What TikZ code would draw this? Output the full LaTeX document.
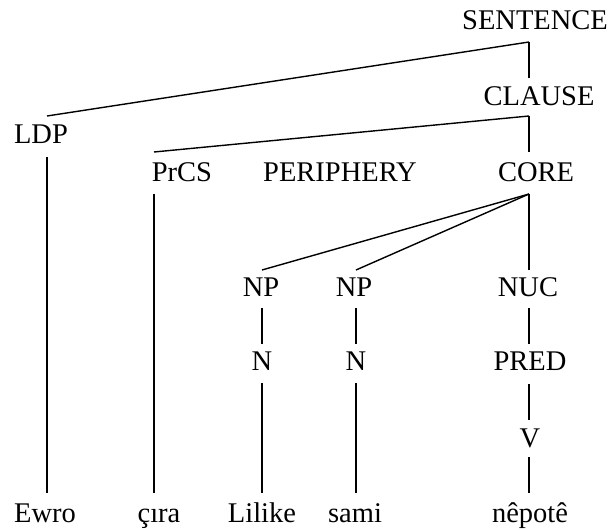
\documentclass[tikz,border=0pt]{standalone}
\usepackage{fontspec}
\setmainfont{Liberation Serif}
\begin{document}
\begin{tikzpicture}[x=1bp,y=-1bp,
  lbl/.style={anchor=base,inner sep=0pt,font=\fontsize{28.5bp}{30bp}\selectfont},
  edge/.style={line width=1.4bp}]
\useasboundingbox (0,0) rectangle (609,530);
% labels
\node[lbl] (S) at (535,30) {SENTENCE};
\node[lbl] (CL) at (539,106) {CLAUSE};
\node[lbl] (LDP) at (41,144) {LDP};
\node[lbl] (PrCS) at (182,182) {PrCS};
\node[lbl] (PER) at (340,182) {PERIPHERY};
\node[lbl] (CORE) at (536,182) {CORE};
\node[lbl] (NP1) at (261,296) {NP};
\node[lbl] (NP2) at (354,296) {NP};
\node[lbl] (NUC) at (528,296) {NUC};
\node[lbl] (N1) at (262,370) {N};
\node[lbl] (N2) at (356,370) {N};
\node[lbl] (PRED) at (530,370) {PRED};
\node[lbl] (V) at (530,447) {V};
\node[lbl] (W1) at (45,522) {Ewro};
\node[lbl] (W2) at (159,522) {çıra};
\node[lbl] (W3) at (262,522) {Lilike};
\node[lbl] (W4) at (355,522) {sami};
\node[lbl] (W5) at (530,522) {nêpotê};
% attachment points
\coordinate (Sb) at (529,42);
\coordinate (CLt) at (529,78);
\coordinate (CLb) at (529,116);
\coordinate (LDPt) at (47,116);
\coordinate (LDPb) at (47,157);
\coordinate (PrCSt) at (154,152);
\coordinate (PrCSb) at (154,194);
\coordinate (COREt) at (529,152);
\coordinate (COREb) at (529,194);
\coordinate (NP1t) at (262,270);
\coordinate (NP1b) at (262,308);
\coordinate (NP2t) at (356,270);
\coordinate (NP2b) at (356,308);
\coordinate (NUCt) at (529,270);
\coordinate (NUCb) at (529,308);
\coordinate (N1t) at (262,344);
\coordinate (N1b) at (262,383);
\coordinate (N2t) at (356,344);
\coordinate (N2b) at (356,383);
\coordinate (PREDt) at (529,344);
\coordinate (PREDb) at (529,384);
\coordinate (Vt) at (529,420);
\coordinate (Vb) at (529,457);
\coordinate (W1t) at (47,493);
\coordinate (W2t) at (154,493);
\coordinate (W3t) at (262,493);
\coordinate (W4t) at (356,493);
\coordinate (W5t) at (529,493);
% connectors
\draw[edge] (Sb) -- (CLt);
\draw[edge] (Sb) -- (LDPt);
\draw[edge] (CLb) -- (COREt);
\draw[edge] (CLb) -- (PrCSt);
\draw[edge] (LDPb) -- (W1t);
\draw[edge] (PrCSb) -- (W2t);
\draw[edge] (COREb) -- (NP1t);
\draw[edge] (COREb) -- (NP2t);
\draw[edge] (COREb) -- (NUCt);
\draw[edge] (NP1b) -- (N1t);
\draw[edge] (NP2b) -- (N2t);
\draw[edge] (N1b) -- (W3t);
\draw[edge] (N2b) -- (W4t);
\draw[edge] (NUCb) -- (PREDt);
\draw[edge] (PREDb) -- (Vt);
\draw[edge] (Vb) -- (W5t);
\end{tikzpicture}
\end{document}
